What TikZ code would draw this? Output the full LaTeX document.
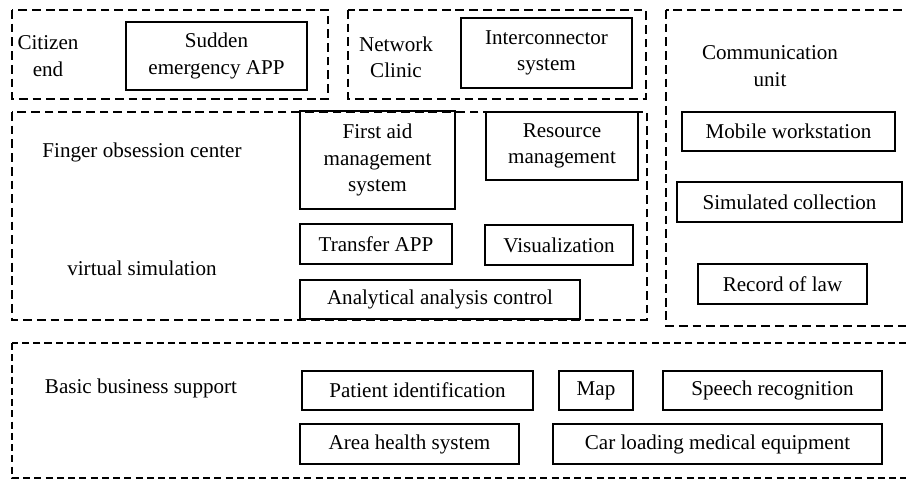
\documentclass[tikz,border=0pt]{standalone}
\usepackage{fontspec}
\setmainfont{Liberation Serif}
\usepackage{tikz}
\usetikzlibrary{positioning}

\begin{document}
\begin{tikzpicture}[x=0.02cm,y=-0.02cm,
    font=\fontsize{12}{15}\selectfont,
    frame/.style={line width=1.6pt,dash pattern=on 5pt off 2.8pt},
    thinframe/.style={line width=1.1pt,dash pattern=on 4pt off 2.4pt},
    unit/.style={rectangle,draw,line width=1.3pt,inner sep=0pt,align=center},
    label/.style={align=center}]
    \useasboundingbox (0,0) rectangle (906,479);
    \clip (0,0) rectangle (906,479);

    % Dashed groups
    \draw[frame] (12,10) rectangle (328,99);
    \draw[frame] (348,10) rectangle (646,99);
    \draw[frame] (666,10) rectangle (920,326);
    \draw[frame] (12,112) rectangle (647,320);
    \draw[thinframe] (12,343) rectangle (920,478);

    % Top row
    \node[label] (citizen) at (48,56) {Citizen\\end};
    \node[unit,minimum width=3.62cm,minimum height=1.36cm] (sudden) at (216.5,56) {Sudden\\emergency APP};
    \node[label] (clinic) at (396,57) {Network\\Clinic};
    \node[unit,minimum width=3.42cm,minimum height=1.4cm] (intercon) at (546.5,53) {Interconnector\\system};

    % Finger obsession center
    \node[label] (finger) at (142,152) {Finger obsession center};
    \node[label] (virtual) at (142,268) {virtual simulation};
    \node[unit,minimum width=3.1cm,minimum height=1.96cm] (firstaid) at (377.5,160) {First aid\\management\\system};
    \node[unit,minimum width=3.04cm,minimum height=1.36cm] (resource) at (562,146) {Resource\\management};
    \node[unit,minimum width=3.04cm,minimum height=0.8cm] (transfer) at (376,244) {Transfer APP};
    \node[unit,minimum width=2.96cm,minimum height=0.8cm] (visual) at (559,245) {Visualization};
    \node[unit,minimum width=5.6cm,minimum height=0.78cm] (analytic) at (440,299.5) {Analytical analysis control};

    % Communication unit
    \node[label] (comm) at (770,66) {Communication\\unit};
    \node[unit,minimum width=4.26cm,minimum height=0.78cm] (mobile) at (788.5,131.5) {Mobile workstation};
    \node[unit,minimum width=4.5cm,minimum height=0.8cm] (simcoll) at (789.5,202) {Simulated collection};
    \node[unit,minimum width=3.38cm,minimum height=0.8cm] (record) at (782.5,284) {Record of law};

    % Basic business support
    \node[label] (basic) at (141,388) {Basic business support};
    \node[unit,minimum width=4.62cm,minimum height=0.78cm] (patient) at (417.5,390.5) {Patient identification};
    \node[unit,minimum width=1.48cm,minimum height=0.78cm] (map) at (596,390.5) {Map};
    \node[unit,minimum width=4.38cm,minimum height=0.78cm] (speech) at (772.5,390.5) {Speech recognition};
    \node[unit,minimum width=4.38cm,minimum height=0.8cm] (area) at (409.5,444) {Area health system};
    \node[unit,minimum width=6.58cm,minimum height=0.8cm] (carload) at (717.5,444) {Car loading medical equipment};
\end{tikzpicture}
\end{document}
